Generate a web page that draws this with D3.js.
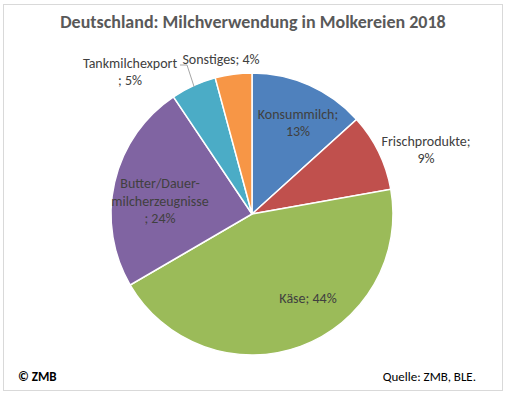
<!DOCTYPE html>
<html>
<head>
<meta charset="utf-8">
<script src="https://cdn.jsdelivr.net/npm/d3@7"></script>
<style>
  body { margin: 0; background: #fff; }
  text { font-family: Carlito, Lato, "Liberation Sans", sans-serif; }
</style>
</head>
<body>
<div id="chart"></div>
<script>
var categories = ["Konsummilch", "Frischprodukte", "Käse", "Butter/Dauer-milcherzeugnisse", "Tankmilchexport", "Sonstiges"];
var shares = [13.3, 8.9, 44.4, 24.0, 5.2, 4.2];
var colors = ["#4F81BD", "#C0504D", "#9BBB59", "#8064A2", "#4BACC6", "#F79646"];
// label lines as Excel wraps them
var labelLines = [
  ["Konsummilch;", "13%"],
  ["Frischprodukte;", "9%"],
  ["Käse; 44%"],
  ["Butter/Dauer-", "milcherzeugnisse", "; 24%"],
  ["Tankmilchexport", "; 5%"],
  ["Sonstiges; 4%"]
];
// label anchor offsets relative to pie centre
var labelOffsets = [[46, -91], [174, -64], [56, 84], [-92, -13], [-122, -142], [-31, -155]];

var width = 507, height = 396;
var cx = 252, cy = 214, radius = 141;

var svg = d3.select("#chart").append("svg")
  .attr("width", width)
  .attr("height", height);

svg.append("rect")
  .attr("x", 3.5).attr("y", 4.5)
  .attr("width", 499).attr("height", 386)
  .attr("fill", "#fff")
  .attr("stroke", "#D9D9D9");

svg.append("text")
  .attr("x", 253).attr("y", 28)
  .attr("text-anchor", "middle")
  .attr("font-size", 18)
  .attr("font-weight", "bold")
  .attr("fill", "#595959")
  .text("Deutschland: Milchverwendung in Molkereien 2018");

var pie = d3.pie().sort(null).value(function(d) { return d; });
var arc = d3.arc().innerRadius(0).outerRadius(radius);
var arcs = pie(shares);

var g = svg.append("g").attr("transform", "translate(" + cx + "," + cy + ")");

g.selectAll("path.slice")
  .data(arcs)
  .enter()
  .append("path")
  .attr("class", "slice")
  .attr("d", arc)
  .attr("fill", function(d, i) { return colors[i]; })
  .attr("stroke", "#fff")
  .attr("stroke-width", 1.5);

// leader line for Tankmilchexport
var tankArc = arcs[4];
var tankMid = (tankArc.startAngle + tankArc.endAngle) / 2;
var tankEdge = [Math.sin(tankMid) * radius * 0.99, -Math.cos(tankMid) * radius * 0.99];
g.append("polyline")
  .attr("points", [[-72, -149], [-65, -149], tankEdge].map(function(p) { return p.join(","); }).join(" "))
  .attr("fill", "none")
  .attr("stroke", "#A6A6A6")
  .attr("stroke-width", 1);

var labels = g.selectAll("text.lbl")
  .data(arcs)
  .enter()
  .append("text")
  .attr("class", "lbl")
  .attr("text-anchor", "middle")
  .attr("font-size", 14)
  .attr("fill", "#404040")
  .attr("transform", function(d, i) {
    var o = labelOffsets[i];
    var n = labelLines[i].length;
    return "translate(" + o[0] + "," + (o[1] - (n - 1) * 8.75 + 4.5) + ")";
  });

labels.selectAll("tspan")
  .data(function(d, i) { return labelLines[i]; })
  .enter()
  .append("tspan")
  .attr("x", 0)
  .attr("dy", function(d, j) { return j === 0 ? 0 : 17.5; })
  .text(function(d) { return d; });

svg.append("text")
  .attr("x", 18).attr("y", 381)
  .attr("font-size", 13)
  .attr("font-weight", "bold")
  .attr("fill", "#000")
  .text("© ZMB");

svg.append("text")
  .attr("x", 476).attr("y", 381)
  .attr("text-anchor", "end")
  .attr("font-size", 13)
  .attr("fill", "#000")
  .text("Quelle: ZMB, BLE.");
</script>
</body>
</html>
